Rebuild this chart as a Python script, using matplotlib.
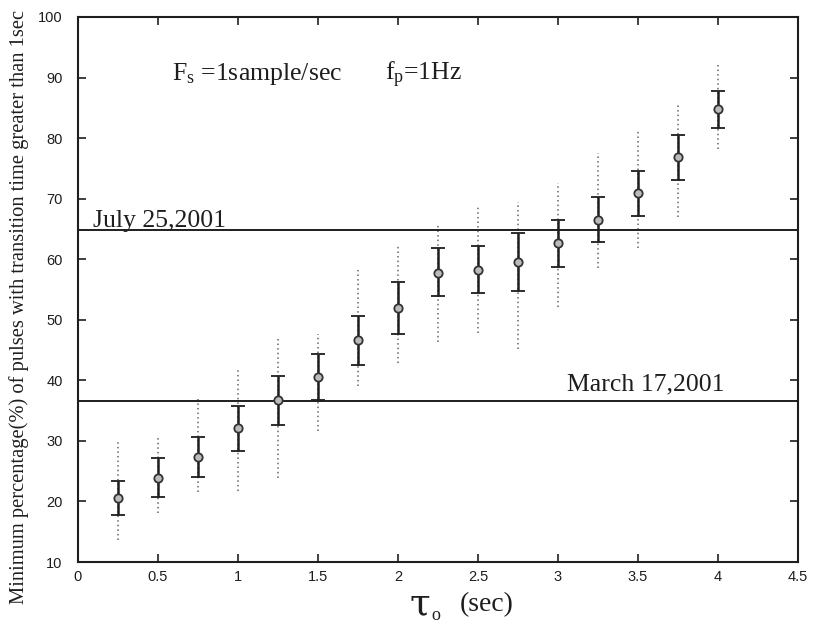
import matplotlib
matplotlib.use("Agg")
import matplotlib.pyplot as plt

plt.rcParams['mathtext.fontset'] = 'custom'
plt.rcParams['mathtext.rm'] = 'Liberation Serif'
plt.rcParams['mathtext.it'] = 'Liberation Serif:italic'

# tau_o values and the minimum percentage statistics
tau = [0.25, 0.5, 0.75, 1.0, 1.25, 1.5, 1.75, 2.0,
       2.25, 2.5, 2.75, 3.0, 3.25, 3.5, 3.75, 4.0]
mean = [20.6, 23.9, 27.4, 32.2, 36.7, 40.6, 46.6, 51.9,
        57.8, 58.3, 59.5, 62.6, 66.5, 70.9, 76.9, 84.8]
inner_hi = [23.4, 27.1, 30.7, 35.7, 40.8, 44.3, 50.6, 56.2,
            61.8, 62.2, 64.3, 66.5, 70.3, 74.6, 80.5, 87.8]
inner_lo = [17.8, 20.8, 24.1, 28.4, 32.7, 36.7, 42.6, 47.6,
            53.9, 54.5, 54.7, 58.7, 62.8, 67.1, 73.1, 81.7]
outer_hi = [30.2, 30.7, 37.0, 42.1, 47.1, 47.6, 58.3, 62.5,
            65.8, 68.8, 69.4, 72.6, 77.5, 81.5, 85.7, 92.3]
outer_lo = [13.6, 18.1, 21.6, 21.8, 23.9, 31.7, 39.1, 42.8,
            46.4, 47.9, 45.1, 52.1, 58.5, 61.8, 67.0, 78.2]

# reference levels observed on two dates
ref_levels = [64.9, 36.6]
ref_labels = ['July 25,2001', 'March 17,2001']

fig = plt.figure(figsize=(8.15, 6.28), dpi=100)
ax = fig.add_axes([0.0957, 0.105, 0.8834, 0.868])

ink = '#1e1e1e'
serif = 'Liberation Serif'

# outer range as dotted lines
ax.vlines(tau, outer_lo, outer_hi, colors='#666666', linestyles=(0, (1, 2)), linewidth=1.1)

# inner range with caps and open markers
yerr = [[m - lo for m, lo in zip(mean, inner_lo)],
        [hi - m for m, hi in zip(mean, inner_hi)]]
ax.errorbar(tau, mean, yerr=yerr, fmt='o', color=ink, ecolor=ink,
            elinewidth=1.8, capsize=5, capthick=1.6,
            markersize=6, mfc='#bbbbbb', mec='#333333', mew=1.3)

for lvl in ref_levels:
    ax.axhline(lvl, color=ink, linewidth=1.4)

ax.text(0.094, 65.3, ref_labels[0], family=serif, fontsize=18.5,
        color=ink, va='baseline')
ax.text(3.056, 38.3, ref_labels[1], family=serif, fontsize=18.5,
        color=ink, va='baseline')

ax.text(0.587, 89.6, r'$\mathrm{F_s}$ =1sample/sec', family=serif, fontsize=18.5,
        color=ink, va='baseline')
ax.text(1.92, 89.6, r'$\mathrm{f_p}$=1Hz', family=serif, fontsize=18.5,
        color=ink, va='baseline')

ax.set_xlim(0, 4.5)
ax.set_ylim(10, 100)
ax.set_xticks([0, 0.5, 1, 1.5, 2, 2.5, 3, 3.5, 4, 4.5])
ax.set_xticklabels(['0', '0.5', '1', '1.5', '2', '2.5', '3', '3.5', '4', '4.5'])
ax.set_yticks(range(10, 101, 10))

ax.tick_params(direction='in', length=6, width=1.2, top=True, right=True,
               labelsize=10.5, colors=ink)
ax.tick_params(axis='y', pad=11)
ax.tick_params(axis='x', pad=6)
for lab in ax.get_xticklabels() + ax.get_yticklabels():
    lab.set_family('Liberation Sans')
for sp in ax.spines.values():
    sp.set_linewidth(1.5)
    sp.set_color(ink)

ax.text(-0.082, 0.468,
        'Minimum percentage(%) of pulses with transition time greater than 1sec',
        transform=ax.transAxes, rotation=90, ha='center', va='center',
        family=serif, fontsize=14.8, color=ink)

# x label: large tau with subscript, then the unit
fig.text(0.515, 0.022, '\u03c4', family='DejaVu Serif',
         fontsize=27, color=ink, ha='center', va='baseline')
fig.text(0.535, 0.013, 'o', family=serif,
         fontsize=13, color=ink, ha='center', va='baseline')
fig.text(0.564, 0.027, '(sec)', family=serif,
         fontsize=20, color=ink, ha='left', va='baseline')

fig.savefig('out.png', dpi=100)
